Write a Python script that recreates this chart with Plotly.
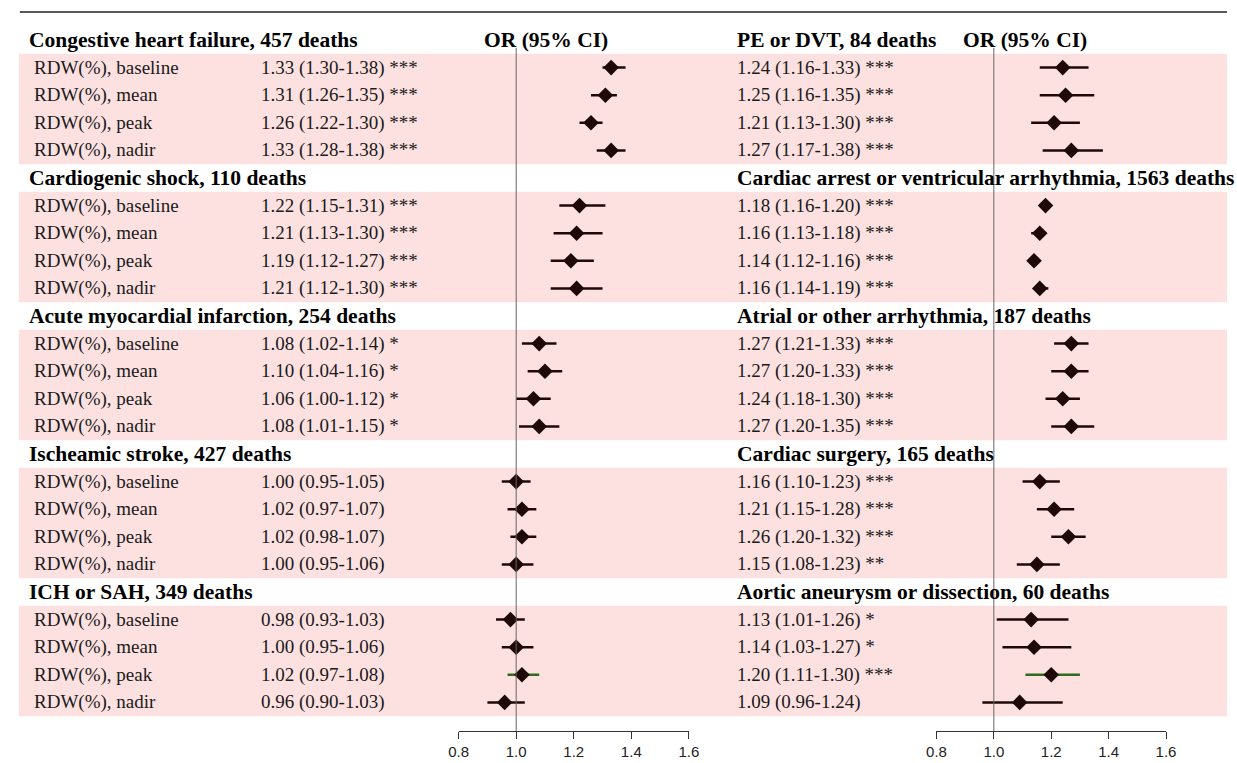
import plotly.graph_objects as go

# ---------------- data ----------------
row_labels = ["RDW(%), baseline", "RDW(%), mean", "RDW(%), peak", "RDW(%), nadir"]

left_headers = ["Congestive heart failure, 457 deaths", "Cardiogenic shock, 110 deaths",
                "Acute myocardial infarction, 254 deaths", "Ischeamic stroke, 427 deaths",
                "ICH or SAH, 349 deaths"]
left_or = [[1.33, 1.31, 1.26, 1.33], [1.22, 1.21, 1.19, 1.21], [1.08, 1.10, 1.06, 1.08],
           [1.00, 1.02, 1.02, 1.00], [0.98, 1.00, 1.02, 0.96]]
left_lo = [[1.30, 1.26, 1.22, 1.28], [1.15, 1.13, 1.12, 1.12], [1.02, 1.04, 1.00, 1.01],
           [0.95, 0.97, 0.98, 0.95], [0.93, 0.95, 0.97, 0.90]]
left_hi = [[1.38, 1.35, 1.30, 1.38], [1.31, 1.30, 1.27, 1.30], [1.14, 1.16, 1.12, 1.15],
           [1.05, 1.07, 1.07, 1.06], [1.03, 1.06, 1.08, 1.03]]
left_sig = [["***"] * 4, ["***"] * 4, ["*"] * 4, [""] * 4, [""] * 4]

right_headers = ["PE or DVT, 84 deaths", "Cardiac arrest or ventricular arrhythmia, 1563 deaths",
                 "Atrial or other arrhythmia, 187 deaths", "Cardiac surgery, 165 deaths",
                 "Aortic aneurysm or dissection, 60 deaths"]
right_or = [[1.24, 1.25, 1.21, 1.27], [1.18, 1.16, 1.14, 1.16], [1.27, 1.27, 1.24, 1.27],
            [1.16, 1.21, 1.26, 1.15], [1.13, 1.14, 1.20, 1.09]]
right_lo = [[1.16, 1.16, 1.13, 1.17], [1.16, 1.13, 1.12, 1.14], [1.21, 1.20, 1.18, 1.20],
            [1.10, 1.15, 1.20, 1.08], [1.01, 1.03, 1.11, 0.96]]
right_hi = [[1.33, 1.35, 1.30, 1.38], [1.20, 1.18, 1.16, 1.19], [1.33, 1.33, 1.30, 1.35],
            [1.23, 1.28, 1.32, 1.23], [1.26, 1.27, 1.30, 1.24]]
right_sig = [["***"] * 4, ["***"] * 4, ["***"] * 4, ["***", "***", "***", "**"], ["*", "*", "***", ""]]

# CI lines highlighted in green (group index, row index)
left_green = [(4, 2)]
right_green = [(4, 2)]

tick_vals = [0.8, 1.0, 1.2, 1.4, 1.6]
tick_text = ["0.8", "1.0", "1.2", "1.4", "1.6"]

# ---------------- layout constants ----------------
W, H = 1237, 763
Y0, STEP = 40.0, 27.6          # pixel y of row 0, row step
def px(x):
    return x / W

SERIF = "Liberation Serif, Times New Roman, serif"
SANS = "Liberation Sans, Arial, sans-serif"
PINK = "#FDE1E1"
INK = "#1E0808"
GREEN = "#2F6A1F"

fig = go.Figure()
shapes = []
annotations = []

# pink bands
for g in range(5):
    shapes.append(dict(type="rect", xref="paper", yref="y", x0=px(9), x1=1.0,
                       y0=5 * g + 0.5, y1=5 * g + 4.5, fillcolor=PINK,
                       line=dict(width=0), layer="below"))

# top rule
shapes.append(dict(type="line", xref="paper", yref="paper", x0=px(10), x1=1.0,
                   y0=1 - 12 / H, y1=1 - 12 / H, line=dict(color="#222222", width=1.5)))

# reference lines at OR = 1
for xr in ["x", "x2"]:
    shapes.append(dict(type="line", xref=xr, yref="paper", x0=1.0, x1=1.0,
                       y0=1 - 48 / H, y1=1 - 731 / H, line=dict(color="#666666", width=1),
                       layer="above"))

def add_panel(headers, ors, los, his, sigs, greens, xaxis, header_x, text_x, label_x, or_title_x):
    black_x, black_y, green_x, green_y = [], [], [], []
    mx, my = [], []
    for g in range(5):
        r0 = 5 * g
        annotations.append(dict(xref="paper", yref="y", x=px(header_x), y=r0, text="<b>%s</b>" % headers[g],
                                showarrow=False, xanchor="left", yanchor="middle",
                                font=dict(family=SERIF, size=21.5, color="#000000")))
        for i in range(4):
            r = r0 + 1 + i
            if label_x is not None:
                annotations.append(dict(xref="paper", yref="y", x=px(label_x), y=r, text=row_labels[i],
                                        showarrow=False, xanchor="left", yanchor="middle",
                                        font=dict(family=SERIF, size=19, color="#1a1a1a")))
            txt = "%.2f (%.2f-%.2f)" % (ors[g][i], los[g][i], his[g][i])
            if sigs[g][i]:
                txt += " " + sigs[g][i]
            annotations.append(dict(xref="paper", yref="y", x=px(text_x), y=r, text=txt,
                                    showarrow=False, xanchor="left", yanchor="middle",
                                    font=dict(family=SERIF, size=19, color="#1a1a1a")))
            if (g, i) in greens:
                green_x += [los[g][i], his[g][i], None]
                green_y += [r, r, None]
            else:
                black_x += [los[g][i], his[g][i], None]
                black_y += [r, r, None]
            mx.append(ors[g][i])
            my.append(r)
    annotations.append(dict(xref="paper", yref="y", x=px(or_title_x), y=0, text="<b>OR (95% CI)</b>",
                            showarrow=False, xanchor="center", yanchor="middle",
                            font=dict(family=SERIF, size=21.5, color="#000000")))
    fig.add_trace(go.Scatter(x=black_x, y=black_y, mode="lines", xaxis=xaxis, yaxis="y",
                             line=dict(color=INK, width=2.5), hoverinfo="skip", showlegend=False))
    fig.add_trace(go.Scatter(x=green_x, y=green_y, mode="lines", xaxis=xaxis, yaxis="y",
                             line=dict(color=GREEN, width=2.5), hoverinfo="skip", showlegend=False))
    fig.add_trace(go.Scatter(x=mx, y=my, mode="markers", xaxis=xaxis, yaxis="y",
                             marker=dict(symbol="diamond", size=12, color=INK,
                                         line=dict(width=0)), showlegend=False))

add_panel(left_headers, left_or, left_lo, left_hi, left_sig, left_green, "x", 17, 253, 22, 545)
add_panel(right_headers, right_or, right_lo, right_hi, right_sig, right_green, "x2", 737, 737, None, 1032)

axis_pos = 1 - 731 / H
common_x = dict(range=[0.8, 1.6], tickvals=tick_vals, ticktext=tick_text, showgrid=False,
                zeroline=False, showline=True, linecolor="#333333", linewidth=1.3,
                ticks="outside", ticklen=7, tickwidth=1.3, tickcolor="#333333",
                tickfont=dict(family=SANS, size=15, color="#222222"),
                anchor="free", position=axis_pos, fixedrange=True)

fig.update_layout(
    width=W, height=H, margin=dict(l=0, r=0, t=0, b=0),
    paper_bgcolor="white", plot_bgcolor="rgba(0,0,0,0)",
    xaxis=dict(domain=[456 / W, 690 / W], **common_x),
    xaxis2=dict(domain=[941.7 / W, 1175 / W], **common_x),
    yaxis=dict(range=[(H - Y0) / STEP, -Y0 / STEP], domain=[0, 1], visible=False, fixedrange=True),
    shapes=shapes, annotations=annotations, showlegend=False,
)

fig.write_html("out.html", post_script="document.body.style.margin='0';document.body.style.overflow='hidden';")
